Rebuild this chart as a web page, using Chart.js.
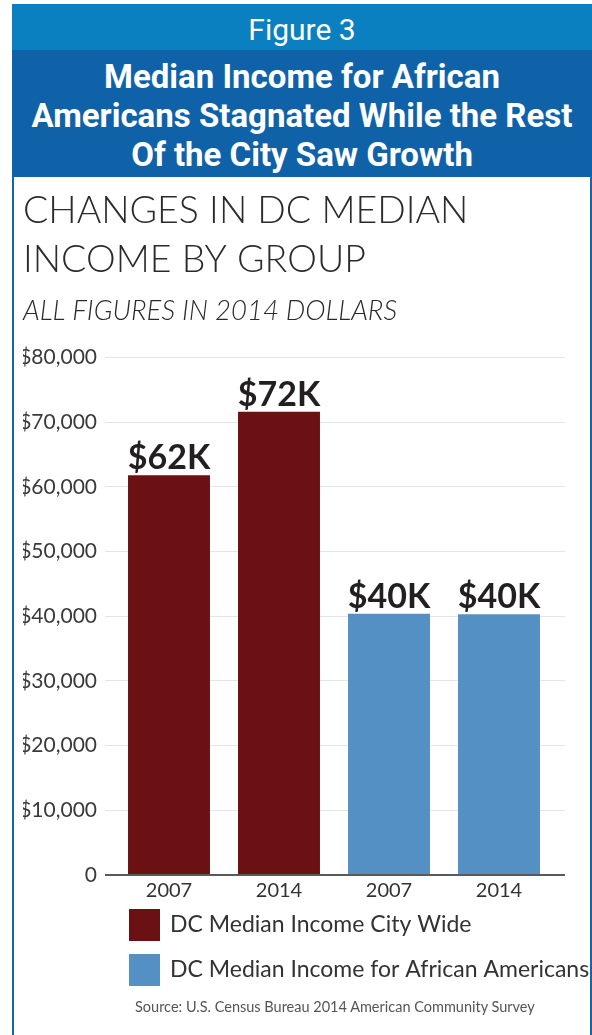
<!DOCTYPE html>
<html lang="en">
<head>
<meta charset="UTF-8">
<title>Median Income by Group</title>
<script src="https://cdn.jsdelivr.net/npm/chart.js@4.4.1/dist/chart.umd.min.js"></script>
<style>
    * { margin: 0; padding: 0; box-sizing: border-box; }
    body { width: 592px; height: 1035px; background: #fff; overflow: hidden; position: relative; }
    .frame { position: absolute; left: 12px; top: 4px; width: 580px; }
    .fig { height: 46px; background: #0a80c0; color: #fff; font: 400 30px Roboto, sans-serif; text-align: center; line-height: 52px; overflow: hidden; }
    .head { height: 127px; background: #1062a8; color: #fff; font: 700 33px Roboto, sans-serif; line-height: 39px; text-align: center; padding-top: 7px; white-space: nowrap; }
    .chart-box { position: relative; width: 580px; height: 860px; border-left: 2px solid #1565ad; border-right: 2px solid #1565ad; }
    .source { position: absolute; left: 121px; top: 821px; font: 14.5px Lato, sans-serif; color: #555; white-space: nowrap; }
</style>
</head>
<body>
<div class="frame">
    <div class="fig">Figure 3</div>
    <div class="head">Median Income for African<br>Americans Stagnated While the Rest<br>Of the City Saw Growth</div>
    <div class="chart-box">
        <canvas id="chart" width="576" height="858"></canvas>
        <div class="source">Source: U.S. Census Bureau 2014 American Community Survey</div>
    </div>
</div>
<script>
    const categories = ["2007", "2014", "2007", "2014"];
    const seriesNames = ["DC Median Income City Wide", "DC Median Income for African Americans"];
    const cityWide = [61800, 71600, null, null];
    const africanAmericans = [null, null, 40400, 40300];
    const yMax = 80000;
    const yStep = 10000;

    const gridColor = (c) => (c.tick && c.tick.value === 0 ? "#5a5a5a" : "#e4e4e4");
    const gridWidth = (c) => (c.tick && c.tick.value === 0 ? 2 : 1);

    // "$62K" style labels above each bar
    const valueLabels = {
        id: "valueLabels",
        afterDatasetsDraw(chart) {
            const ctx = chart.ctx;
            ctx.save();
            ctx.font = "700 34px Lato";
            ctx.fillStyle = "#231f20";
            ctx.textAlign = "center";
            ctx.textBaseline = "alphabetic";
            chart.data.datasets.forEach((ds, i) => {
                chart.getDatasetMeta(i).data.forEach((bar, j) => {
                    const v = ds.data[j];
                    if (v == null) return;
                    ctx.fillText("$" + Math.round(v / 1000) + "K", bar.x, bar.y - 6);
                });
            });
            ctx.restore();
        }
    };

    // stacked legend under the axis; the built-in one clips long labels
    const sideLegend = {
        id: "sideLegend",
        afterDraw(chart) {
            const ctx = chart.ctx;
            const x0 = chart.chartArea.left + 15;
            let y = chart.scales.x.bottom + 2;
            ctx.save();
            ctx.font = "23px Lato";
            ctx.textBaseline = "middle";
            chart.data.datasets.forEach((ds) => {
                ctx.fillStyle = ds.backgroundColor;
                ctx.fillRect(x0, y, 31, 32);
                ctx.fillStyle = "#333";
                ctx.fillText(ds.label, x0 + 41, y + 16);
                y += 45;
            });
            ctx.restore();
        }
    };

    new Chart(document.getElementById("chart"), {
        type: "bar",
        plugins: [valueLabels, sideLegend],
        data: {
            labels: categories,
            datasets: [
                { label: seriesNames[0], data: cityWide, backgroundColor: "#6b1013" },
                { label: seriesNames[1], data: africanAmericans, backgroundColor: "#5590c4" }
            ]
        },
        options: {
            responsive: false,
            devicePixelRatio: 1,
            animation: false,
            skipNull: true,
            categoryPercentage: 1,
            barPercentage: 0.745,
            layout: { padding: { left: 9, right: 25, top: 0, bottom: 128 } },
            scales: {
                x: {
                    grid: { display: false, drawTicks: false },
                    border: { display: false },
                    ticks: { color: "#333", padding: 4, font: { family: "Lato", size: 20 } }
                },
                y: {
                    min: 0,
                    max: yMax,
                    afterFit: (s) => { s.width = 91; },
                    border: { display: false },
                    grid: { color: gridColor, lineWidth: gridWidth, tickLength: 9 },
                    ticks: {
                        stepSize: yStep,
                        padding: 8,
                        color: "#3a3a3a",
                        font: { family: "Lato", size: 21 },
                        callback: (v) => (v === 0 ? "0" : "$" + v.toLocaleString("en-US"))
                    }
                },
                y2: {
                    position: "right",
                    min: 0,
                    max: yMax,
                    border: { display: false },
                    grid: { color: gridColor, lineWidth: gridWidth, tickLength: 11, drawOnChartArea: false },
                    ticks: { stepSize: yStep, display: false }
                }
            },
            plugins: {
                tooltip: { enabled: false },
                legend: { display: false },
                title: {
                    display: true,
                    text: ["CHANGES IN DC MEDIAN", "INCOME BY GROUP"],
                    align: "start",
                    color: "#2b2b2b",
                    font: { family: "Lato", size: 37.5, weight: 300, lineHeight: 48.5 / 37.5 },
                    padding: { top: 10, bottom: 0 }
                },
                subtitle: {
                    display: true,
                    text: "ALL FIGURES IN 2014 DOLLARS",
                    align: "start",
                    color: "#2b2b2b",
                    font: { family: "Lato", size: 27.5, style: "italic", weight: 300, lineHeight: 1 },
                    padding: { top: 13, bottom: 33 }
                }
            }
        }
    });
</script>
</body>
</html>
